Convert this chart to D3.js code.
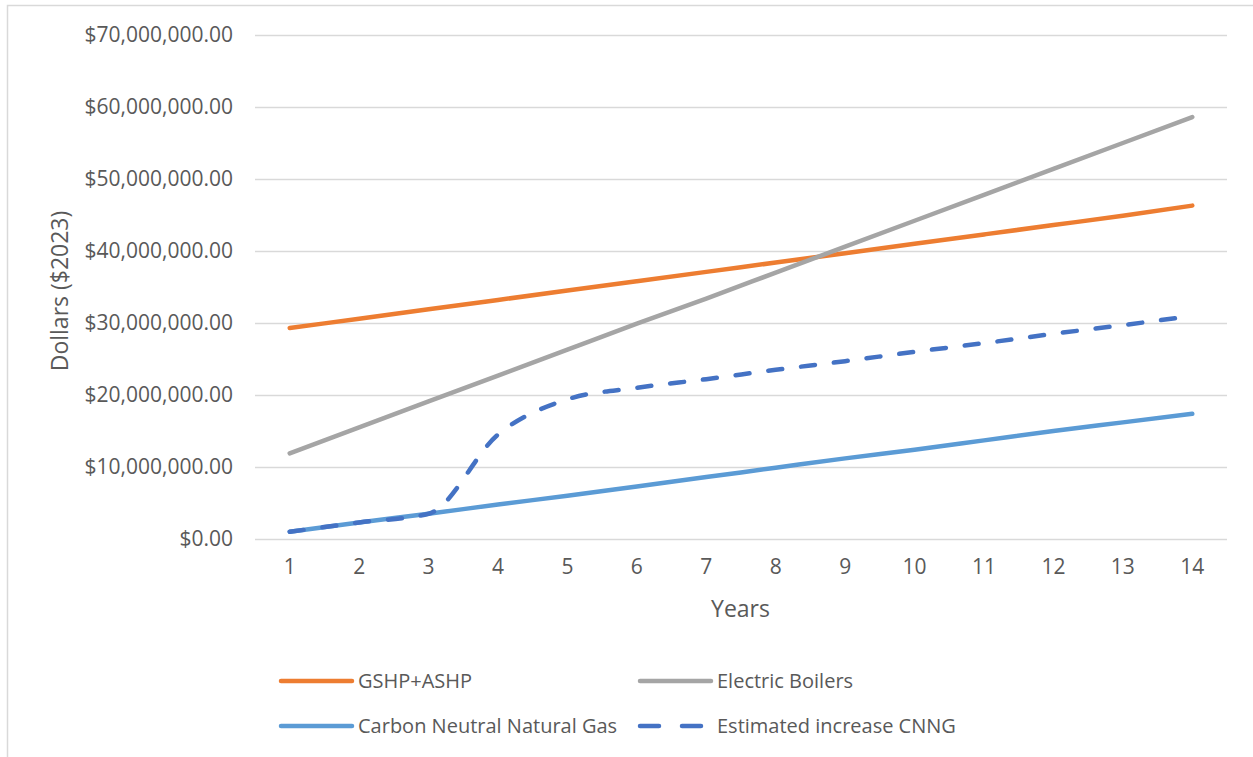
<!DOCTYPE html>
<html>
<head>
<meta charset="utf-8">
<script src="https://cdn.jsdelivr.net/npm/d3@7"></script>
<style>
  html, body { margin: 0; padding: 0; background: #ffffff; }
  svg { display: block; }
  text { font-family: "Open Sans", "Noto Sans", sans-serif; fill: #595959; }
</style>
</head>
<body>
<svg id="chart" width="1253" height="757"></svg>
<script>
// Years on the horizontal axis
const years = [1, 2, 3, 4, 5, 6, 7, 8, 9, 10, 11, 12, 13, 14];

// Cumulative cost per option, in 2023 dollars
const gshpAshp = [29.3e6, 30.6e6, 31.9e6, 33.2e6, 34.5e6, 35.8e6, 37.1e6, 38.4e6, 39.7e6, 41.0e6, 42.3e6, 43.6e6, 44.9e6, 46.3e6];
const electricBoilers = [11.9e6, 15.5e6, 19.1e6, 22.7e6, 26.3e6, 29.9e6, 33.4e6, 37.0e6, 40.6e6, 44.2e6, 47.8e6, 51.4e6, 55.0e6, 58.6e6];
const cnng = [1.0e6, 2.3e6, 3.5e6, 4.8e6, 6.0e6, 7.3e6, 8.6e6, 9.9e6, 11.2e6, 12.4e6, 13.7e6, 15.0e6, 16.2e6, 17.4e6];
const cnngEstimated = [1.0e6, 2.3e6, 3.5e6, 14.5e6, 19.4e6, 21.0e6, 22.2e6, 23.5e6, 24.7e6, 26.0e6, 27.2e6, 28.5e6, 29.7e6, 31.0e6];

// Value axis ticks
const yTicks = [0, 10e6, 20e6, 30e6, 40e6, 50e6, 60e6, 70e6];

const seriesNames = ["GSHP+ASHP", "Electric Boilers", "Carbon Neutral Natural Gas", "Estimated increase CNNG"];
const seriesValues = [gshpAshp, electricBoilers, cnng, cnngEstimated];
const seriesColors = ["#ED7D31", "#A5A5A5", "#5B9BD5", "#4472C4"];
const seriesDashed = [false, false, false, true];

const svg = d3.select("#chart");

// Outer chart frame
svg.append("rect")
  .attr("x", 7.5).attr("y", 5.5)
  .attr("width", 1300).attr("height", 800)
  .attr("fill", "none").attr("stroke", "#D9D9D9").attr("stroke-width", 1.5);

const plot = { left: 255, right: 1227, top: 35, bottom: 539 };

const x = d3.scaleBand().domain(years).range([plot.left, plot.right]);
const xc = d => x(d) + x.bandwidth() / 2;
const y = d3.scaleLinear().domain([0, 70e6]).range([plot.bottom, plot.top]);

// Horizontal gridlines with dollar labels
const yAxis = d3.axisLeft(y)
  .tickValues(yTicks)
  .tickFormat(d3.format("$,.2f"))
  .tickSize(-(plot.right - plot.left))
  .tickPadding(22);

const gy = svg.append("g")
  .attr("transform", `translate(${plot.left},0)`)
  .call(yAxis);
gy.select(".domain").remove();
gy.selectAll(".tick line").attr("stroke", "#D9D9D9").attr("stroke-width", 1.5);
gy.selectAll(".tick text")
  .attr("font-size", 21)
  .attr("font-family", "'Open Sans', sans-serif")
  .attr("fill", "#595959");

// Category axis labels
const xAxis = d3.axisBottom(x).tickSize(0).tickPadding(20);
const gx = svg.append("g")
  .attr("transform", `translate(0,${plot.bottom})`)
  .call(xAxis);
gx.select(".domain").remove();
gx.selectAll(".tick text")
  .attr("font-size", 21)
  .attr("font-family", "'Open Sans', sans-serif")
  .attr("fill", "#595959");

// Axis titles
svg.append("text")
  .attr("x", (plot.left + plot.right) / 2 - 0.5)
  .attr("y", 617)
  .attr("text-anchor", "middle")
  .attr("font-size", 23)
  .text("Years");

svg.append("text")
  .attr("transform", `translate(68,291) rotate(-90)`)
  .attr("text-anchor", "middle")
  .attr("font-size", 23)
  .text("Dollars ($2023)");

// Series lines (smoothed without overshoot)
const line = d3.line()
  .x((d, i) => xc(years[i]))
  .y(d => y(d))
  .curve(d3.curveMonotoneX);

seriesValues.forEach((vals, i) => {
  svg.append("path")
    .datum(vals)
    .attr("d", line)
    .attr("fill", "none")
    .attr("stroke", seriesColors[i])
    .attr("stroke-width", 4.5)
    .attr("stroke-linecap", "round")
    .attr("stroke-linejoin", "round")
    .attr("stroke-dasharray", seriesDashed[i] ? "14,19" : null);
});

// Legend, two columns by two rows
const legendPos = [
  { x: 281, y: 681 },
  { x: 640, y: 681 },
  { x: 281, y: 726 },
  { x: 640, y: 726 }
];
seriesNames.forEach((name, i) => {
  const p = legendPos[i];
  const g = svg.append("g").attr("transform", `translate(${p.x},${p.y})`);
  g.append("line")
    .attr("x1", 0).attr("x2", 71)
    .attr("y1", 0).attr("y2", 0)
    .attr("stroke", seriesColors[i])
    .attr("stroke-width", 4.5)
    .attr("stroke-linecap", "round")
    .attr("stroke-dasharray", seriesDashed[i] ? "19,23" : null);
  g.append("text")
    .attr("x", 77)
    .attr("y", 0)
    .attr("dy", "0.35em")
    .attr("font-size", 20)
    .text(name);
});
</script>
</body>
</html>
